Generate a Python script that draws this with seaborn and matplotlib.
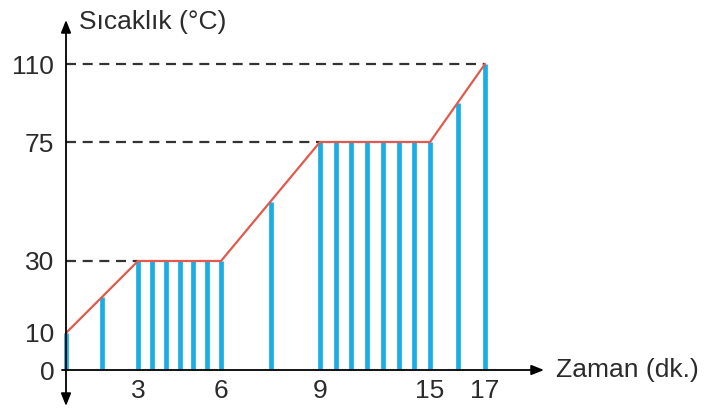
import numpy as np
import matplotlib
matplotlib.use("Agg")
import matplotlib.pyplot as plt
import seaborn as sns

# veri: zaman (dk.) ve sıcaklık (°C)
times = [0, 1.5, 3, 3.5, 4, 4.5, 5, 5.5, 6, 7.5,
         9, 9.86, 10.71, 11.57, 12.43, 13.29, 14.14, 15, 16, 17]
temps = [10, 20, 30, 30, 30, 30, 30, 30, 30, 52.5,
         75, 75, 75, 75, 75, 75, 75, 75, 92.5, 110]
curve_t = [0, 3, 6, 9, 15, 17]
curve_T = [10, 30, 30, 75, 75, 110]
x_ticks = [0, 3, 6, 9, 15, 17]
y_ticks = [0, 10, 30, 75, 110]
dash_pts = [(3, 30), (9, 75), (17, 110)]

# şematik (doğrusal olmayan) eksen ölçeği: tik değerleri -> piksel
x_anchor_px = [66, 138, 221, 320, 430, 485]
y_anchor_px = [38, 75, 147, 266, 344]


def piecewise(src, dst):
    src = np.asarray(src, float)
    dst = np.asarray(dst, float)

    def f(v):
        v = np.asarray(v, float)
        out = np.interp(v, src, dst)
        lo = dst[0] + (v - src[0]) * (dst[1] - dst[0]) / (src[1] - src[0])
        hi = dst[-1] + (v - src[-1]) * (dst[-1] - dst[-2]) / (src[-1] - src[-2])
        out = np.where(v < src[0], lo, out)
        out = np.where(v > src[-1], hi, out)
        return out
    return f


fx = piecewise(x_ticks, x_anchor_px)
fx_inv = piecewise(x_anchor_px, x_ticks)
fy = piecewise(y_ticks, y_anchor_px)
fy_inv = piecewise(y_anchor_px, y_ticks)

sns.set_style("white")
plt.rcParams['font.family'] = ['Liberation Sans', 'DejaVu Sans']

fig = plt.figure(figsize=(7.18, 4.08), dpi=100)
ax = fig.add_axes([0, 0, 1, 1])
ax.set_xscale('function', functions=(fx, fx_inv))
ax.set_yscale('function', functions=(fy, fy_inv))
ax.set_xlim(float(fx_inv(0)), float(fx_inv(718)))
ax.set_ylim(float(fy_inv(0)), float(fy_inv(408)))

blue = '#1BADE6'
red = '#E05A4E'
txt = '#2B2B2B'

# mavi çubuklar
ax.vlines(times, 0, temps, colors=blue, linewidth=3.4, zorder=2)

# kırmızı eğri
sns.lineplot(x=curve_t, y=curve_T, color=red, linewidth=1.6, sort=False,
             estimator=None, ax=ax, zorder=3)

# kesikli yardımcı çizgiler
for xt, yv in dash_pts:
    ax.plot([0, xt], [yv, yv], color='#333333', linewidth=1.6,
            dashes=(4.5, 3), zorder=1)

# eksenler (oklu)
for s in ax.spines.values():
    s.set_visible(False)
ax.spines['left'].set_position(('data', 0))
ax.spines['bottom'].set_position(('data', 0))

ax.annotate('', xy=(0, 1 - 20 / 408), xytext=(0, 1 - 406 / 408),
            xycoords=ax.get_xaxis_transform(),
            arrowprops=dict(arrowstyle='<|-|>,head_length=0.75,head_width=0.3',
                            color='black', linewidth=1.3, shrinkA=0, shrinkB=0))
ax.annotate('', xy=(544 / 718, 0), xytext=(62 / 718, 0),
            xycoords=ax.get_yaxis_transform(),
            arrowprops=dict(arrowstyle='-|>,head_length=0.75,head_width=0.3',
                            color='black', linewidth=1.3, shrinkA=0, shrinkB=0))

ax.set_xticks(x_ticks)
ax.set_yticks(y_ticks)
ax.set_xticklabels([str(v) for v in x_ticks])
ax.set_yticklabels([str(v) for v in y_ticks])
ax.xaxis.set_minor_locator(matplotlib.ticker.NullLocator())
ax.yaxis.set_minor_locator(matplotlib.ticker.NullLocator())
ax.tick_params(axis='both', direction='inout', length=7, width=1.1,
               labelsize=19, colors='black', labelcolor=txt)
ax.tick_params(axis='x', pad=3)
ax.tick_params(axis='y', pad=5)
# x=0 etiketi gösterilmiyor (0 zaten y ekseninde)
ax.get_xticklabels()[0].set_visible(False)

ax.text(fx_inv(79), fy_inv(408 - 22), 'Sıcaklık (°C)', fontsize=19,
        color=txt, ha='left', va='center')
ax.text(fx_inv(556), 0, 'Zaman (dk.)', fontsize=19, color=txt,
        ha='left', va='center')

fig.savefig('out.png', dpi=100)
